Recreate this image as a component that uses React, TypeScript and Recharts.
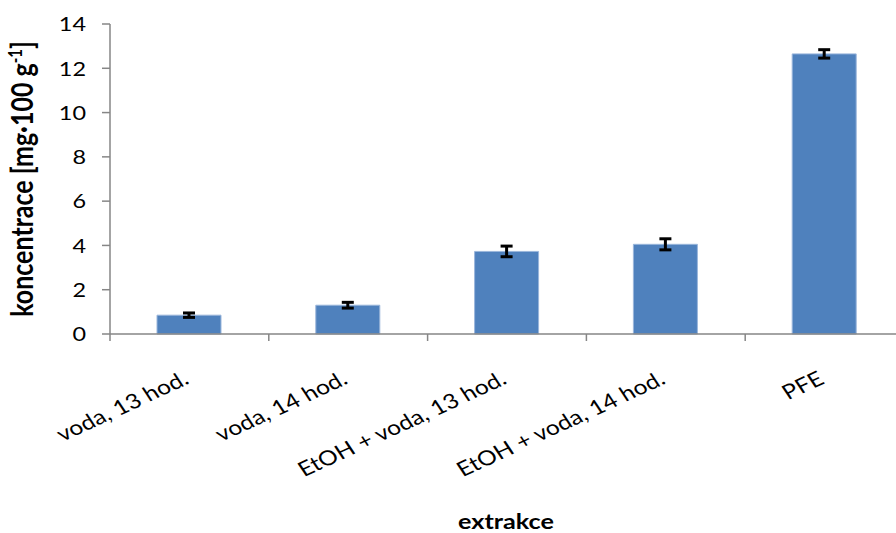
import { BarChart, Bar, XAxis, YAxis, ErrorBar } from 'recharts'

const categories = ['voda, 13 hod.', 'voda, 14 hod.', 'EtOH + voda, 13 hod.', 'EtOH + voda, 14 hod.', 'PFE']
const values = [0.85, 1.3, 3.73, 4.05, 12.65]
const errors = [0.1, 0.13, 0.24, 0.25, 0.19]
const yTicks = [0, 2, 4, 6, 8, 10, 12, 14]

const data = categories.map((name, i) => ({ name, value: values[i], err: errors[i] }))

const CHART_W = 920
const CHART_H = 533
const Y_AXIS_W = 110
const RIGHT = 16
const TOP = 24
const X_AXIS_H = 199
const STEP = (CHART_W - Y_AXIS_W - RIGHT) / categories.length

const FONT = 'Lato, "Open Sans", sans-serif'
// text is drawn slightly wider than tall, like the rest of the chart
const SX = 1.2
const AXIS_COLOR = '#868686'

const YTick = ({ x, y, payload }: { x: number; y: number; payload: { value: number } }) => (
  <text
    transform={`translate(${x},${y}) scale(${SX},1)`}
    textAnchor="end"
    dominantBaseline="central"
    fontFamily={FONT}
    fontSize={19.5}
    fill="#000"
  >
    {payload.value}
  </text>
)

// category label plus the tick marks between categories
const XTick = ({ x, y, payload, index }: { x: number; y: number; payload: { value: string }; index: number }) => {
  const left = x - STEP / 2
  return (
    <g>
      <line x1={left} y1={y} x2={left} y2={y + 7} stroke={AXIS_COLOR} strokeWidth={1.5} />
      {index === categories.length - 1 && (
        <line x1={x + STEP / 2} y1={y} x2={x + STEP / 2} y2={y + 7} stroke={AXIS_COLOR} strokeWidth={1.5} />
      )}
      <text
        transform={`translate(${x + 1},${y + 49}) scale(${SX},1) rotate(-29)`}
        textAnchor="end"
        fontFamily={FONT}
        fontSize={20.5}
        fill="#000"
      >
        {payload.value}
      </text>
    </g>
  )
}

export default function App() {
  return (
    <div style={{ position: 'absolute', left: 0, top: 0, width: 896, height: 533, overflow: 'hidden', background: '#fff' }}>
      <BarChart
        width={CHART_W}
        height={CHART_H}
        data={data}
        margin={{ top: TOP, right: RIGHT, left: 0, bottom: 0 }}
      >
        <XAxis
          dataKey="name"
          interval={0}
          height={X_AXIS_H}
          tickSize={0}
          tickMargin={0}
          tickLine={false}
          axisLine={{ stroke: AXIS_COLOR, strokeWidth: 1.5 }}
          tick={XTick}
        />
        <YAxis
          width={Y_AXIS_W}
          domain={[0, 14]}
          ticks={yTicks}
          interval={0}
          tickSize={8}
          tickMargin={16}
          axisLine={{ stroke: AXIS_COLOR, strokeWidth: 1.5 }}
          tickLine={{ stroke: AXIS_COLOR, strokeWidth: 1.5 }}
          tick={YTick}
        />
        <Bar dataKey="value" fill="#4F81BD" stroke="#9AB6DB" strokeWidth={1} barSize={64} isAnimationActive={false}>
          <ErrorBar dataKey="err" width={6} strokeWidth={3} stroke="#000" isAnimationActive={false} />
        </Bar>
      </BarChart>
      <svg width={896} height={533} style={{ position: 'absolute', left: 0, top: 0, pointerEvents: 'none' }}>
        <text
          transform={`translate(33,179) scale(${SX},1) rotate(-90)`}
          textAnchor="middle"
          fontFamily={FONT}
          fontWeight="bold"
          fontSize={25}
          fill="#000"
        >
          koncentrace [mg·100 g
          <tspan dy={-9} fontSize={15}>-1</tspan>
          <tspan dy={9}>]</tspan>
        </text>
        <text
          transform={`translate(506,529) scale(${SX},1)`}
          textAnchor="middle"
          fontFamily={FONT}
          fontWeight="bold"
          fontSize={21}
          fill="#000"
        >
          extrakce
        </text>
      </svg>
    </div>
  )
}
